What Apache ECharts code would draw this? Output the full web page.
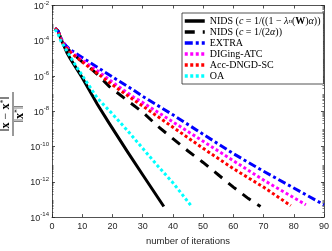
<!DOCTYPE html>
<html><head><meta charset="utf-8">
<script src="https://cdn.jsdelivr.net/npm/echarts@6/dist/echarts.min.js"></script>
<style>html,body{margin:0;padding:0;background:#fff}#c{width:332px;height:251px}</style>
</head><body><div id="c"></div>
<script>
// ---- data ----
const xTickValues = [0,10,20,30,40,50,60,70,80,90];
const yTickExponents = [-14,-12,-10,-8,-6,-4,-2];

const nidsAIter = [1,2,3,4,5,6,10,15,19,25,30,37];
const nidsAVal  = [5.01e-4,3.55e-4,1.26e-4,5.01e-5,2.0e-5,1.0e-5,7.94e-7,2.51e-8,2.0e-9,5.01e-11,2.51e-12,3.98e-14];

const nidsBIter = [1,2,3,4,5,6,10,13,15,19,25,30,35,40,45,50,55,60,65,69];
const nidsBVal  = [5.01e-4,3.55e-4,1.26e-4,6.31e-5,3.98e-5,2.51e-5,6.31e-6,2.51e-6,1.26e-6,2.51e-7,3.98e-8,8.91e-9,1.41e-9,2.82e-10,5.62e-11,1.26e-11,2.51e-12,5.01e-13,1.12e-13,3.98e-14];

const extraIter = [1,2,3,4,5,6,10,15,20,27,30,40,50,60,70,80,90];
const extraVal  = [5.01e-4,3.55e-4,1.41e-4,7.08e-5,4.47e-5,3.16e-5,1.12e-5,3.16e-6,8.91e-7,1.58e-7,7.08e-8,6.31e-9,5.01e-10,3.98e-11,3.98e-12,4.47e-13,5.01e-14];

const digingIter = [1,2,3,4,5,6,10,15,20,27,30,40,50,60,70,80,84];
const digingVal  = [5.01e-4,3.55e-4,1.26e-4,6.31e-5,3.98e-5,2.51e-5,7.94e-6,2.0e-6,4.47e-7,6.31e-8,3.16e-8,2.51e-9,2.0e-10,1.58e-11,1.26e-12,1.26e-13,5.01e-14];

const accIter = [1,2,3,4,5,6,10,15,20,27,30,40,50,60,70,79];
const accVal  = [5.01e-4,3.55e-4,1.12e-4,5.62e-5,3.55e-5,2.24e-5,6.31e-6,1.41e-6,3.16e-7,4.47e-8,2.0e-8,1.26e-9,7.94e-11,5.62e-12,5.01e-13,4.47e-14];

const oaIter = [1,2,3,4,5,8,15,20,25,30,35,40,46];
const oaVal  = [4.47e-4,2.51e-4,8.91e-5,5.01e-5,2.51e-5,3.55e-6,5.62e-8,7.08e-9,7.94e-10,7.94e-11,7.94e-12,8.91e-13,4.47e-14];

const seriesNames = [
  'NIDS (c = 1/((1 − λn(W)α))',
  'NIDS (c = 1/(2α))',
  'EXTRA',
  'DIGing-ATC',
  'Acc-DNGD-SC',
  'OA'
];
const legendRich = {
  'NIDS (c = 1/((1 − λn(W)α))': '{r|NIDS (}{i|c}{r| = 1/((1 − }{i|λ}{sub|n}{r|(}{b|W}{r|)}{i|α}{r|))}',
  'NIDS (c = 1/(2α))': '{r|NIDS (}{i|c}{r| = 1/(2}{i|α}{r|))}',
  'EXTRA': '{r|EXTRA}',
  'DIGing-ATC': '{r|DIGing-ATC}',
  'Acc-DNGD-SC': '{r|Acc-DNGD-SC}',
  'OA': '{r|OA}'
};

// ---- build ----
function pairs(xs, vs){ return xs.map((x,i)=>[x, Math.log10(vs[i])]); }
const minorTicks = [];
for (let n = -14; n < -2; n++) for (let k = 2; k <= 9; k++) minorTicks.push(n + Math.log10(k));

const serif = 'Liberation Serif, DejaVu Serif, serif';
const sans = 'Liberation Sans, Arial, sans-serif';
const axisCol = '#262626';

function mkSeries(name, data, color, dash){
  return {
    name, type:'line', data, symbol:'none', showSymbol:false, smooth:false,
    xAxisIndex:0, yAxisIndex:0, animation:false,
    lineStyle:{color, width:3, type:dash, cap:'butt', join:'miter'},
    itemStyle:{color}
  };
}

const yBase = {type:'value', min:-14, max:-2, interval:2, splitLine:{show:false}};
const option = {
  animation:false,
  backgroundColor:'#fff',
  grid:{left:52, right:5, top:4, bottom:26, show:false},
  xAxis:[
    {type:'value', position:'bottom', min:0, max:90, interval:10,
     axisLine:{show:true, lineStyle:{color:axisCol, width:0.8}},
     axisTick:{show:true, inside:true, length:3, lineStyle:{color:axisCol, width:0.8}},
     axisLabel:{fontSize:9, color:axisCol, margin:5, fontFamily:sans, customValues:xTickValues},
     splitLine:{show:false},
     name:'number of iterations', nameLocation:'middle', nameGap:15,
     nameTextStyle:{fontSize:9.5, color:axisCol, fontFamily:sans, verticalAlign:'top'}},
    {type:'value', position:'top', min:0, max:90, interval:10,
     axisLine:{show:true, lineStyle:{color:axisCol, width:0.8}},
     axisTick:{show:true, inside:true, length:3, lineStyle:{color:axisCol, width:0.8}},
     axisLabel:{show:false}, splitLine:{show:false}}
  ],
  yAxis:[
    Object.assign({}, yBase, {position:'left',
     axisLine:{show:true, lineStyle:{color:axisCol, width:0.8}},
     axisTick:{show:true, inside:true, length:3, lineStyle:{color:axisCol, width:0.8}},
     axisLabel:{show:true, margin:3, customValues:yTickExponents,
       formatter:(v)=>'{b|10}{s|'+v+'}',
       rich:{b:{fontSize:9, color:axisCol, fontFamily:sans, verticalAlign:'bottom'},
             s:{fontSize:6, color:axisCol, fontFamily:sans, verticalAlign:'bottom', padding:[0,0,5,0]}}}}),
    Object.assign({}, yBase, {position:'left',
     axisLine:{show:false},
     axisTick:{show:true, inside:true, length:1.5, customValues:minorTicks, lineStyle:{color:axisCol, width:0.6}},
     axisLabel:{show:false}}),
    Object.assign({}, yBase, {position:'right',
     axisLine:{show:true, lineStyle:{color:axisCol, width:0.8}},
     axisTick:{show:true, inside:true, length:3, lineStyle:{color:axisCol, width:0.8}},
     axisLabel:{show:false}}),
    Object.assign({}, yBase, {position:'right',
     axisLine:{show:false},
     axisTick:{show:true, inside:true, length:1.5, customValues:minorTicks, lineStyle:{color:axisCol, width:0.6}},
     axisLabel:{show:false}})
  ],
  legend:{
    orient:'vertical', left:182, top:13, itemWidth:20, itemHeight:6, itemGap:1,
    padding:[3,3,3,1], backgroundColor:'#fff', borderColor:axisCol, borderWidth:0.8,
    data:seriesNames,
    itemStyle:{opacity:0, borderWidth:0},
    lineStyle:{width:3.5},
    formatter:(name)=>legendRich[name],
    textStyle:{fontSize:10, lineHeight:10, color:'#000', fontFamily:serif,
      rich:{
        r:{fontSize:10, fontFamily:serif, color:'#000', lineHeight:10},
        i:{fontSize:10, fontFamily:serif, fontStyle:'italic', color:'#000', lineHeight:10},
        b:{fontSize:10, fontFamily:serif, fontWeight:'bold', color:'#000', lineHeight:10},
        sub:{fontSize:7, fontFamily:serif, fontStyle:'italic', color:'#000', lineHeight:10}
      }}
  },
  series:[
    mkSeries(seriesNames[0], pairs(nidsAIter, nidsAVal), '#000000', 'solid'),
    mkSeries(seriesNames[1], pairs(nidsBIter, nidsBVal), '#000000', [10,8]),
    mkSeries(seriesNames[2], pairs(extraIter, extraVal), '#0000ff', [8,3,3,3]),
    mkSeries(seriesNames[3], pairs(digingIter, digingVal), '#ff00ff', [3,2.5]),
    mkSeries(seriesNames[4], pairs(accIter, accVal), '#ff0000', [3,2.5]),
    mkSeries(seriesNames[5], pairs(oaIter, oaVal), '#00ffff', [3,2.5])
  ],
  graphic:[{
    type:'group', x:13, y:114, rotation:Math.PI/2,
    children:[
      {type:'text', x:0, y:-7, style:{
        text:'{n|‖}{bx|x}{n| − }{bx|x}{sup|*}{n|‖}', align:'center', verticalAlign:'middle',
        rich:{n:{fontSize:12, fontFamily:serif, fill:'#000'},
              bx:{fontSize:12, fontFamily:serif, fontWeight:'bold', fill:'#000'},
              sup:{fontSize:8, fontFamily:serif, fill:'#000', verticalAlign:'bottom', padding:[0,0,5,0]}}}},
      {type:'line', shape:{x1:-22, y1:0, x2:22, y2:0}, style:{stroke:'#000', lineWidth:0.8}},
      {type:'text', x:0, y:7, style:{
        text:'{n|‖}{bx|x}{sup|*}{n|‖}', align:'center', verticalAlign:'middle',
        rich:{n:{fontSize:12, fontFamily:serif, fill:'#000'},
              bx:{fontSize:12, fontFamily:serif, fontWeight:'bold', fill:'#000'},
              sup:{fontSize:8, fontFamily:serif, fill:'#000', verticalAlign:'bottom', padding:[0,0,5,0]}}}}
    ]
  }]
};
const chart = echarts.init(document.getElementById('c'), null, {renderer:'canvas'});
chart.setOption(option);
</script></body></html>
